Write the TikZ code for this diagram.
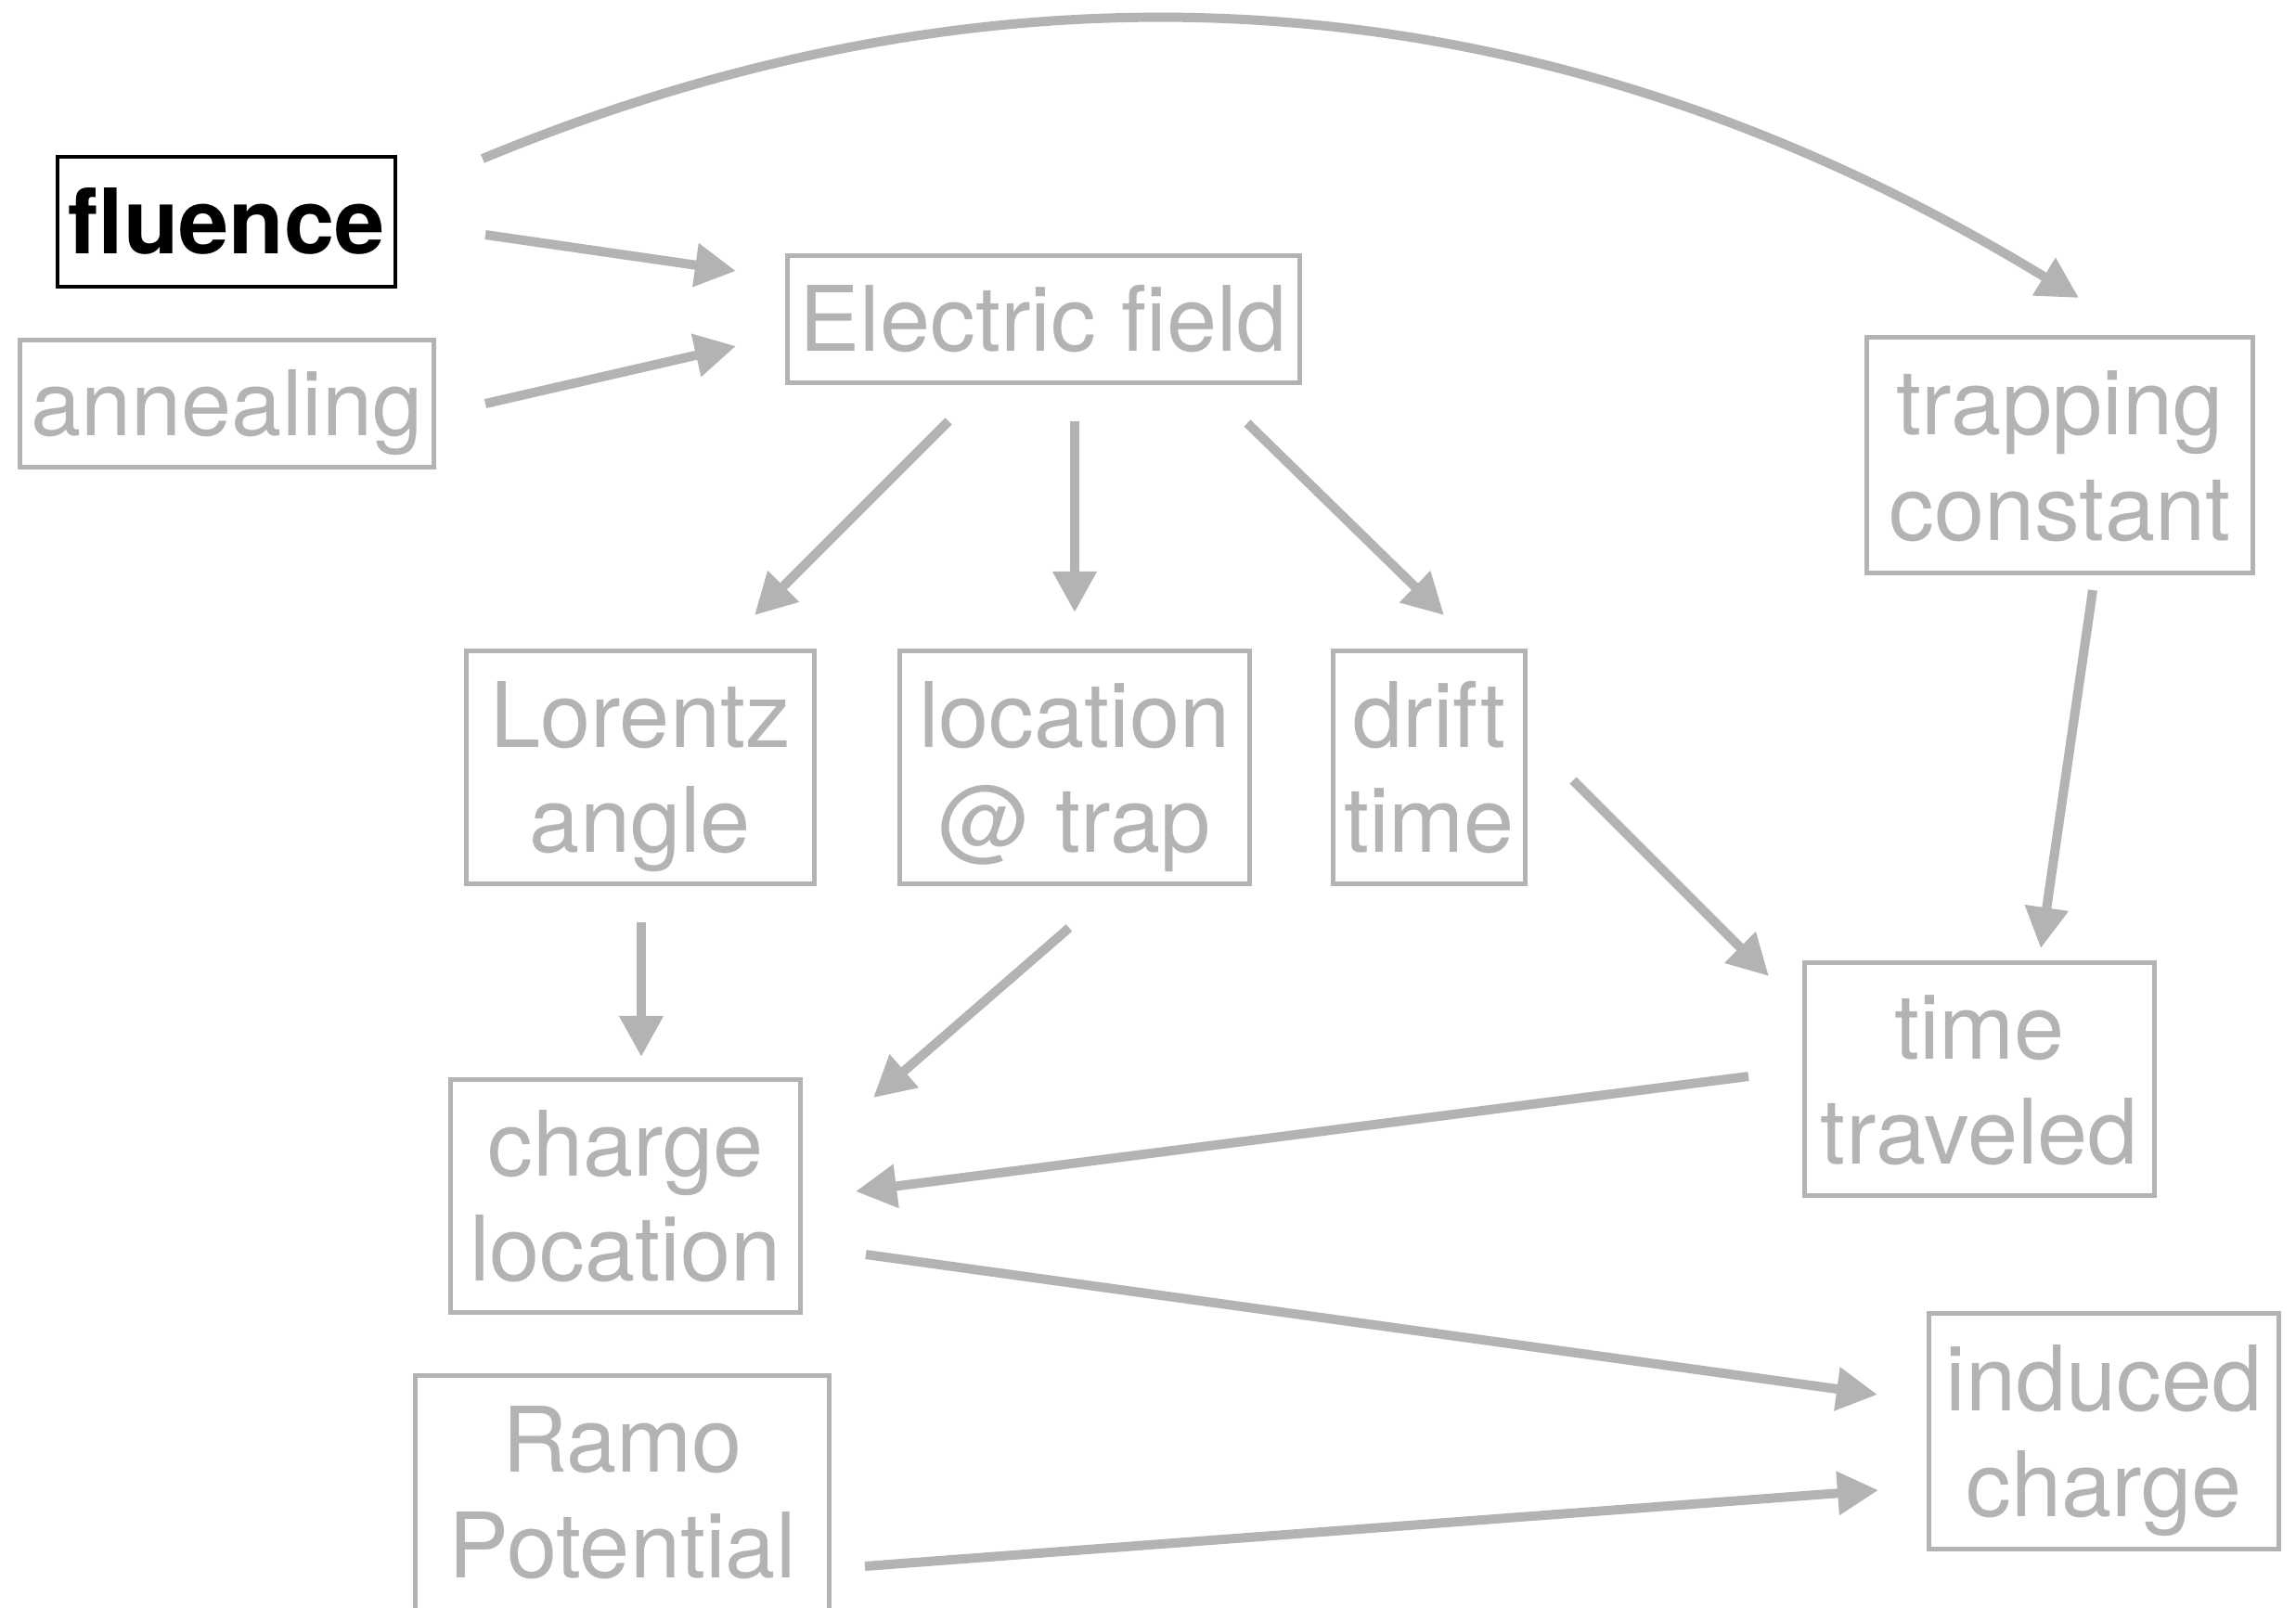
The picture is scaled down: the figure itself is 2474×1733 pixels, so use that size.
\documentclass[tikz,border=0pt]{standalone}
\usepackage{fontspec}
\setmainfont{TeX Gyre Heros}
\usetikzlibrary{arrows.meta}

\definecolor{lgray}{RGB}{179,179,179}

\begin{document}
\begin{tikzpicture}[x=0.01cm, y=-0.01cm,
  every node/.style={inner sep=0pt, outer sep=0pt, align=center,
    font=\fontsize{27.7pt}{32.4pt}\selectfont},
  box/.style={draw=lgray, text=lgray, line width=0.05cm},
  oneline/.style={text height=19.9pt, text depth=0pt},
  twoline/.style={text height=52.3pt, text depth=0pt},
  keybox/.style={draw=black, text=black, line width=0.04cm,
    font=\fontsize{27.7pt}{32.4pt}\selectfont\bfseries},
  link/.style={draw=lgray, line width=0.1cm,
    -{Triangle[length=0.44cm, width=0.45cm]}}
]
\useasboundingbox (0,0) rectangle (2474,1733);

% inputs
\node[keybox, oneline, minimum width=3.64cm, minimum height=1.40cm] (fluence) at (244,239) {fluence};
\node[box, oneline, minimum width=4.46cm, minimum height=1.37cm] (annealing) at (244.5,435) {annealing};

% field and derived quantities
\node[box, oneline, minimum width=5.52cm, minimum height=1.37cm] (efield) at (1124.5,344) {Electric field};
\node[box, twoline, minimum width=4.16cm, minimum height=2.54cm] (trapping) at (2219.5,490.5) {trapping\\constant};
\node[box, twoline, minimum width=3.75cm, minimum height=2.51cm] (lorentz) at (690,827) {Lorentz\\angle};
\node[box, twoline, minimum width=3.77cm, minimum height=2.51cm] (location) at (1158,827) {location\\@ trap};
\node[box, twoline, minimum width=2.07cm, minimum height=2.51cm] (drift) at (1540,827) {drift\\time};
\node[box, twoline, minimum width=3.77cm, minimum height=2.51cm] (traveled) at (2133,1163) {time\\traveled};
\node[box, twoline, minimum width=3.77cm, minimum height=2.51cm] (chargeloc) at (674,1289) {charge\\location};
% runs past the lower page edge
\node[box, twoline, text depth=3.1pt, minimum width=4.46cm, minimum height=2.62cm] (ramo) at (670.5,1613.5) {Ramo\\Potential};
\node[box, twoline, minimum width=3.77cm, minimum height=2.54cm] (induced) at (2267,1542.5) {induced\\charge};

% connector ends
\coordinate (fl-a) at (520,171);   \coordinate (tr-a) at (2240,321);
\coordinate (fl-b) at (523,253);   \coordinate (ef-b) at (793,292);
\coordinate (an-c) at (523,435);   \coordinate (ef-c) at (793,373);
\coordinate (ef-d) at (1022,454);  \coordinate (lo-d) at (813,663);
\coordinate (ef-e) at (1158,454);  \coordinate (lc-e) at (1158,660);
\coordinate (ef-f) at (1344,456);  \coordinate (dr-f) at (1556,663);
\coordinate (tr-g) at (2255,636);  \coordinate (tt-g) at (2199,1022);
\coordinate (dr-h) at (1695,841);  \coordinate (tt-h) at (1906,1052);
\coordinate (lo-i) at (691,994);   \coordinate (cl-i) at (691,1139);
\coordinate (lc-j) at (1152,1000); \coordinate (cl-j) at (941,1183);
\coordinate (tt-k) at (1884,1160); \coordinate (cl-k) at (922,1284);
\coordinate (cl-l) at (933,1352);  \coordinate (ic-l) at (2023,1503);
\coordinate (ra-m) at (932,1688);  \coordinate (ic-m) at (2024,1606);

% connectors
\draw[link] (fl-a) .. controls (1106,-72) and (1679,-21) .. (tr-a);
\draw[link] (fl-b) -- (ef-b);
\draw[link] (an-c) -- (ef-c);
\draw[link] (ef-d) -- (lo-d);
\draw[link] (ef-e) -- (lc-e);
\draw[link] (ef-f) -- (dr-f);
\draw[link] (tr-g) -- (tt-g);
\draw[link] (dr-h) -- (tt-h);
\draw[link] (lo-i) -- (cl-i);
\draw[link] (lc-j) -- (cl-j);
\draw[link] (tt-k) -- (cl-k);
\draw[link] (cl-l) -- (ic-l);
\draw[link] (ra-m) -- (ic-m);
\end{tikzpicture}
\end{document}
